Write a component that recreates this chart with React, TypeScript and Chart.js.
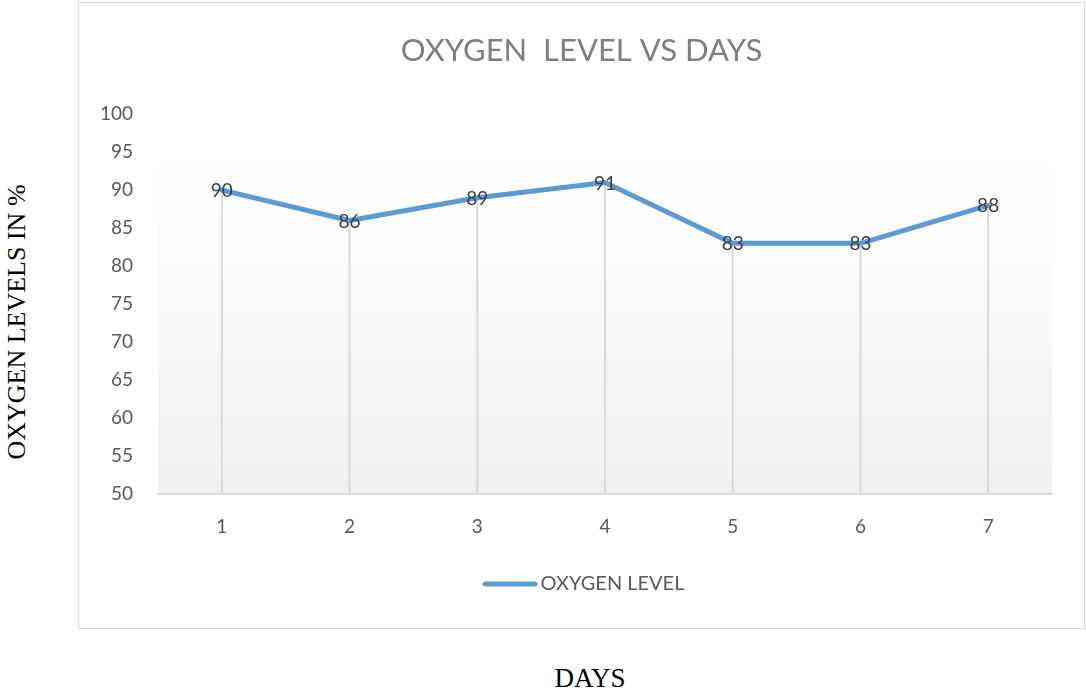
import React, { useEffect, useRef } from "react";
import { Chart, registerables } from "chart.js";

Chart.register(...registerables);

const days = ["1", "2", "3", "4", "5", "6", "7"];
const oxygenLevels = [90, 86, 89, 91, 83, 83, 88];
const seriesName = "OXYGEN LEVEL";
const chartTitle = "OXYGEN  LEVEL VS DAYS";
const yMin = 50;
const yMax = 100;
const yStep = 5;
const xAxisTitle = "DAYS";
const yAxisTitle = "OXYGEN LEVELS IN %";

const FONT = "Lato, 'Open Sans', sans-serif";
const LINE_COLOR = "#5b9bd5";

const plotBackground = {
  id: "plotBackground",
  beforeDraw(chart: any) {
    const { ctx, chartArea } = chart;
    if (!chartArea) return;
    const g = ctx.createLinearGradient(0, chartArea.top, 0, chartArea.bottom);
    g.addColorStop(0, "#ffffff");
    g.addColorStop(0.12, "#ffffff");
    g.addColorStop(1, "#f0f0f0");
    ctx.save();
    ctx.fillStyle = g;
    ctx.fillRect(chartArea.left, chartArea.top, chartArea.right - chartArea.left, chartArea.bottom - chartArea.top);
    ctx.restore();
  },
};

const dropLines = {
  id: "dropLines",
  beforeDatasetsDraw(chart: any) {
    const { ctx, chartArea } = chart;
    const meta = chart.getDatasetMeta(0);
    ctx.save();
    ctx.strokeStyle = "#d9d9d9";
    ctx.lineWidth = 2;
    meta.data.forEach((pt: any) => {
      ctx.beginPath();
      ctx.moveTo(pt.x, pt.y);
      ctx.lineTo(pt.x, chartArea.bottom);
      ctx.stroke();
    });
    ctx.restore();
  },
};

const dataLabels = {
  id: "dataLabels",
  afterDatasetsDraw(chart: any) {
    const { ctx } = chart;
    const meta = chart.getDatasetMeta(0);
    const values = chart.data.datasets[0].data;
    ctx.save();
    ctx.fillStyle = "#404040";
    ctx.font = `19px ${FONT}`;
    ctx.textAlign = "center";
    ctx.textBaseline = "middle";
    meta.data.forEach((pt: any, i: number) => {
      ctx.fillText(String(values[i]), pt.x, pt.y + 1);
    });
    ctx.restore();
  },
};

function makeLegendSwatch(): HTMLCanvasElement {
  const c = document.createElement("canvas");
  c.width = 70;
  c.height = 10;
  const g = c.getContext("2d");
  if (g) {
    g.strokeStyle = LINE_COLOR;
    g.lineWidth = 5;
    g.lineCap = "round";
    g.beginPath();
    g.moveTo(15.5, 5);
    g.lineTo(65.5, 5);
    g.stroke();
  }
  return c;
}

export default function App() {
  const canvasRef = useRef<HTMLCanvasElement | null>(null);

  useEffect(() => {
    if (!canvasRef.current) return;
    const swatch = makeLegendSwatch();
    const chart = new Chart(canvasRef.current, {
      type: "line",
      data: {
        labels: days,
        datasets: [
          {
            label: seriesName,
            data: oxygenLevels,
            borderColor: LINE_COLOR,
            backgroundColor: LINE_COLOR,
            borderWidth: 5,
            borderCapStyle: "round",
            borderJoinStyle: "round",
            pointRadius: 0,
            pointHoverRadius: 0,
            tension: 0,
            fill: false,
            yAxisID: "y",
          },
        ],
      },
      options: {
        animation: false,
        responsive: false,
        maintainAspectRatio: false,
        events: [],
        layout: { padding: { left: 0, right: 0, top: 0, bottom: 24 } },
        plugins: {
          title: {
            display: true,
            text: chartTitle,
            color: "#7f7f7f",
            font: { family: FONT, size: 31, weight: "normal", lineHeight: 1.2 },
            padding: { top: 29, bottom: 45 },
          },
          legend: {
            display: true,
            position: "bottom",
            labels: {
              usePointStyle: true,
              pointStyle: swatch as any,
              pointStyleWidth: 52,
              boxHeight: 20,
              color: "#595959",
              font: { family: FONT, size: 20 },
              padding: 10,
            },
          },
          tooltip: { enabled: false },
        },
        scales: {
          x: {
            type: "category",
            offset: true,
            grid: { display: false, drawTicks: false },
            border: { display: true, color: "#d9d9d9", width: 2 },
            ticks: {
              color: "#595959",
              font: { family: FONT, size: 19 },
              padding: 21,
              maxRotation: 0,
            },
            afterFit: (scale: any) => {
              scale.height = 70;
            },
          },
          y: {
            position: "left",
            min: yMin,
            max: yMax,
            grid: { display: false, drawTicks: false },
            border: { display: false },
            ticks: {
              stepSize: yStep,
              color: "#595959",
              font: { family: FONT, size: 19 },
              padding: 25,
            },
            afterFit: (scale: any) => {
              scale.width = 79;
            },
          },
          yRight: {
            type: "linear",
            position: "right",
            min: yMin,
            max: yMax,
            grid: { display: false, drawTicks: false },
            border: { display: false },
            ticks: { display: false },
            afterFit: (scale: any) => {
              scale.width = 32;
            },
          },
        },
      },
      plugins: [plotBackground, dropLines, dataLabels],
    });
    return () => chart.destroy();
  }, []);

  return (
    <div
      style={{
        position: "fixed",
        left: 0,
        top: 0,
        width: 1086,
        height: 691,
        background: "#ffffff",
        overflow: "hidden",
      }}
    >
      <div
        style={{
          position: "absolute",
          left: 78,
          top: 2,
          width: 1007,
          height: 627,
          border: "1px solid #d9d9d9",
          boxSizing: "border-box",
        }}
      >
        <canvas ref={canvasRef} width={1005} height={625} style={{ display: "block", width: 1005, height: 625 }} />
      </div>
      <div
        style={{
          position: "absolute",
          left: 17,
          top: 322,
          transform: "translate(-50%, -50%) rotate(-90deg)",
          whiteSpace: "nowrap",
          fontFamily: "'Liberation Serif', 'Times New Roman', serif",
          fontSize: 26,
          lineHeight: 1,
          color: "#000000",
        }}
      >
        {yAxisTitle}
      </div>
      <div
        style={{
          position: "absolute",
          left: 590,
          top: 678,
          transform: "translate(-50%, -50%)",
          whiteSpace: "nowrap",
          fontFamily: "'Liberation Serif', 'Times New Roman', serif",
          fontSize: 27,
          lineHeight: 1,
          color: "#000000",
        }}
      >
        {xAxisTitle}
      </div>
    </div>
  );
}
